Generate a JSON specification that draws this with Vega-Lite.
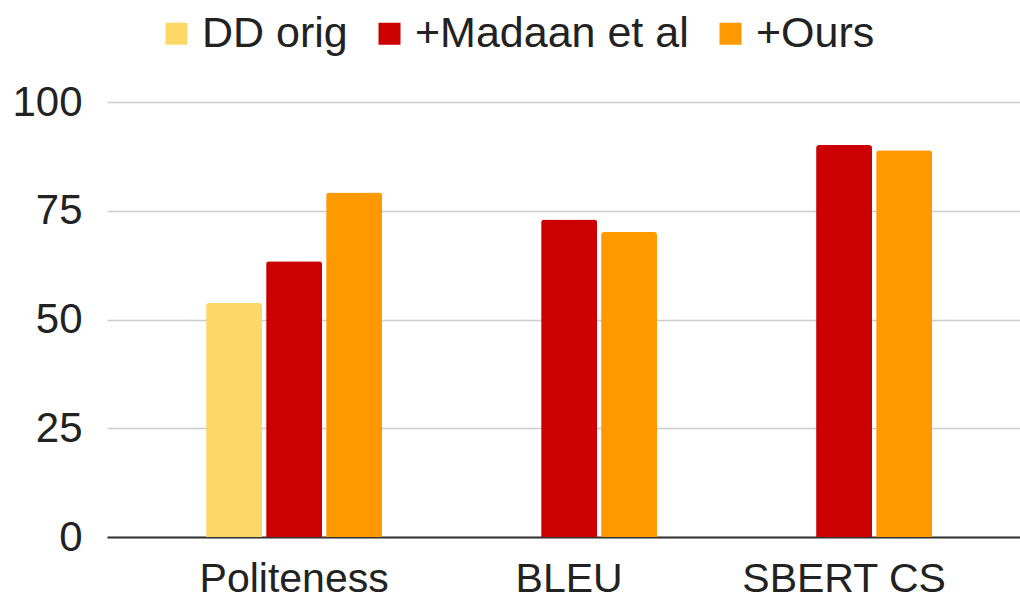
{
  "$schema": "https://vega.github.io/schema/vega-lite/v6.json",
  "autosize": "none",
  "width": 913,
  "height": 435,
  "padding": {"left": 107, "top": 102, "right": 0, "bottom": 64},
  "background": "white",
  "config": {
    "font": "Liberation Sans",
    "view": {"stroke": null}
  },
  "data": {
    "values": [
      {"metric": "Politeness", "series": "DD orig", "value": 53.8},
      {"metric": "Politeness", "series": "+Madaan et al", "value": 63.4},
      {"metric": "Politeness", "series": "+Ours", "value": 79.2},
      {"metric": "BLEU", "series": "+Madaan et al", "value": 73.0},
      {"metric": "BLEU", "series": "+Ours", "value": 70.1},
      {"metric": "SBERT CS", "series": "+Madaan et al", "value": 90.1},
      {"metric": "SBERT CS", "series": "+Ours", "value": 88.9}
    ]
  },
  "mark": {"type": "bar", "cornerRadiusTopLeft": 3, "cornerRadiusTopRight": 3},
  "encoding": {
    "x": {
      "field": "metric",
      "type": "nominal",
      "sort": ["Politeness", "BLEU", "SBERT CS"],
      "scale": {"paddingInner": 0.36, "paddingOuter": 0.34, "align": 0.53},
      "axis": {
        "title": null,
        "labelAngle": 0,
        "labelFontSize": 41,
        "labelLimit": 0,
        "labelColor": "#222222",
        "labelPadding": 22,
        "ticks": false,
        "domain": true,
        "domainColor": "#333333",
        "domainWidth": 2,
        "grid": false
      }
    },
    "xOffset": {
      "field": "series",
      "type": "nominal",
      "scale": {"domain": ["DD orig", "+Madaan et al", "+Ours"], "paddingInner": 0.067, "paddingOuter": 0}
    },
    "y": {
      "field": "value",
      "type": "quantitative",
      "scale": {"domain": [0, 100], "nice": false},
      "axis": {
        "title": null,
        "values": [0, 25, 50, 75, 100],
        "labelFontSize": 42,
        "labelColor": "#222222",
        "labelPadding": 25,
        "ticks": false,
        "domain": false,
        "grid": true,
        "gridColor": "#cccccc",
        "gridWidth": 1.4
      }
    },
    "color": {
      "field": "series",
      "type": "nominal",
      "scale": {"domain": ["DD orig", "+Madaan et al", "+Ours"], "range": ["#fdd868", "#cc0000", "#ff9900"]},
      "legend": {
        "title": null,
        "orient": "none",
        "direction": "horizontal",
        "legendX": 48,
        "legendY": -90,
        "padding": 0,
        "symbolType": "square",
        "symbolSize": 484,
        "symbolStrokeWidth": 0,
        "symbolOpacity": 1,
        "labelFontSize": 43,
        "labelLimit": 0,
        "labelColor": "#222222",
        "labelOffset": 4,
        "columnPadding": 20
      }
    }
  }
}
